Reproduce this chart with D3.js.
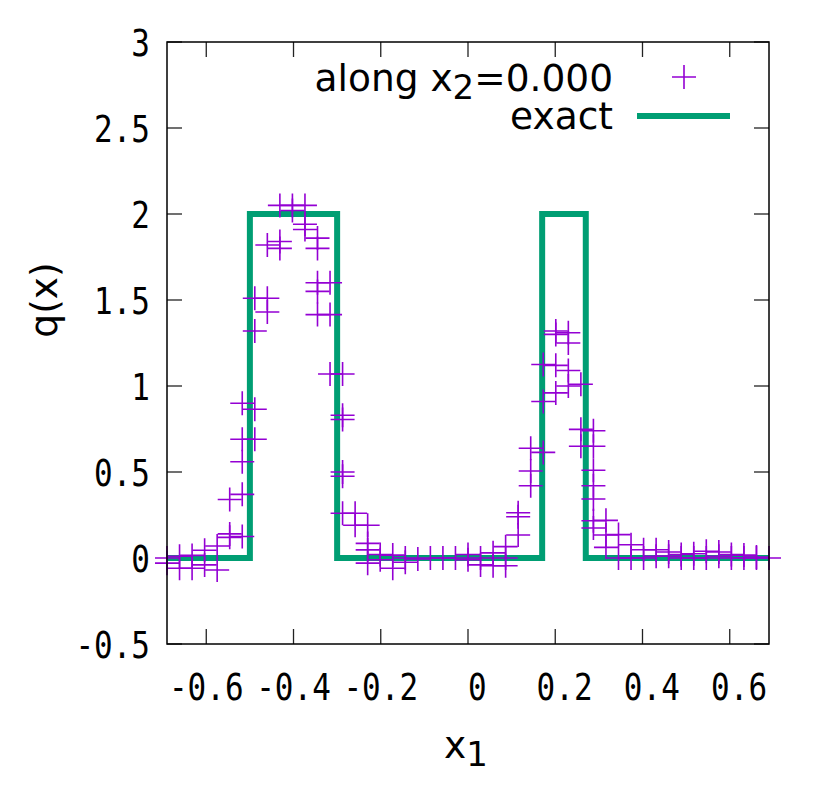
<!DOCTYPE html>
<html>
<head>
<meta charset="utf-8">
<script src="https://cdn.jsdelivr.net/npm/d3@7"></script>
<style>
  html, body { margin: 0; padding: 0; background: #fff; }
  svg { display: block; }
  text { white-space: pre; }
</style>
</head>
<body>
<div id="chart"></div>
<script>
// ---- data ----
const gridStart = -0.69;
const gridStep = 0.02875;
// column index along x1 for each sample point
const sampleCol = [
  0,0, 1,1, 2,2, 3,3, 4,4,
  5,5,5, 6,6,6,6,6, 7,7,7,7, 8,8,8, 9,9,9, 10,10, 11,11,11,
  12,12,12,12,12, 13,13,13, 14,14,14,14,14,14, 15,15, 16,16,16,16,
  17,17, 18,18, 19,19, 20, 21, 22, 23, 24,24, 25,25, 26,26, 27,27,27,
  28,28,28, 29,29,29, 30,30,30, 31,31,31,31, 32,32,32,32, 33,33,33,
  34,34,34,34,34,34,34, 35,35,35, 36,36, 37,37, 38,38, 39,39, 40,40,
  41,41, 42,42, 43,43, 44,44, 45,45, 46,46, 47,47, 48
];
// q(x) value of each sample point along x2 = 0.000
const sampleQ = [
  0.0,-0.03, 0.01,-0.06, 0.015,-0.06, 0.045,-0.04, 0.07,-0.07,
  0.14,0.12,0.34, 0.125,0.37,0.56,0.69,0.90, 0.69,0.865,1.32,1.51, 1.51,1.43,1.82, 1.84,1.80,2.05, 2.05,2.02, 2.05,1.94,1.91,
  1.86,1.80,1.60,1.55,1.415, 1.60,1.415,1.07, 1.07,0.83,0.805,0.50,0.475,0.26, 0.26,0.19, 0.19,0.085,0.047,-0.03,
  0.02,-0.01, 0.017,-0.06, 0.0,-0.025, -0.006, 0.0, 0.0, 0.0, 0.02,-0.01, 0.0,-0.04, 0.03,-0.045, 0.066,0.0,-0.045,
  0.263,0.24,0.134, 0.638,0.506,0.42, 0.614,1.125,0.91, 1.32,1.30,1.12,0.96, 1.31,1.25,1.09,1.0, 1.01,0.748,0.65,
  0.74,0.65,0.51,0.42,0.343,0.217,0.174, 0.219,0.134,0.062, 0.136,0.0, 0.077,0.0, 0.048,0.0, 0.048,0.01, 0.035,0.01,
  0.02,0.0, 0.025,0.0, 0.039,0.0, 0.035,0.01, 0.02,0.0, 0.017,0.0, 0.006,0.0, 0.0
];
// exact solution (step profile)
const exactX = [-0.69, -0.5, -0.5, -0.3, -0.3, 0.17, 0.17, 0.27, 0.27, 0.69];
const exactQ = [0, 0, 2, 2, 0, 0, 2, 2, 0, 0];
// axes
const xTicks = [-0.6, -0.4, -0.2, 0, 0.2, 0.4, 0.6];
const yTicks = [-0.5, 0, 0.5, 1, 1.5, 2, 2.5, 3];
const legendLabels = ["along x", "2", "=0.000", "exact"];

// ---- drawing ----
const W = 830, H = 810;
const L = 167, R = 769, T = 42, B = 644;
const svg = d3.select("#chart").append("svg").attr("width", W).attr("height", H);

const x = d3.scaleLinear().domain([-0.69, 0.69]).range([L, R]);
const y = d3.scaleLinear().domain([-0.5, 3]).range([B, T]);

// gnuplot "% h" style: leading space for non-negative numbers
const fmt = v => {
  const s = String(+v.toFixed(1));
  return v < 0 ? s : " " + s;
};

const tickFont = "'DejaVu Sans Mono', monospace";
const sansFont = "'DejaVu Sans', sans-serif";

// tick marks (inward, mirrored)
const tg = svg.append("g").attr("stroke", "#222").attr("stroke-width", 1.3);
xTicks.forEach(t => {
  tg.append("line").attr("x1", x(t)).attr("x2", x(t)).attr("y1", B).attr("y2", B - 15);
  tg.append("line").attr("x1", x(t)).attr("x2", x(t)).attr("y1", T).attr("y2", T + 15);
});
yTicks.forEach(t => {
  tg.append("line").attr("x1", L).attr("x2", L + 15).attr("y1", y(t)).attr("y2", y(t));
  tg.append("line").attr("x1", R).attr("x2", R - 15).attr("y1", y(t)).attr("y2", y(t));
});

// tick labels (tall, narrow glyphs)
svg.append("g").selectAll("text").data(xTicks).join("text")
  .attr("transform", d => `translate(${x(d)},700) scale(1,1.22)`)
  .attr("text-anchor", "middle")
  .attr("font-family", tickFont).attr("font-size", 31)
  .text(d => fmt(d));
svg.append("g").selectAll("text").data(yTicks).join("text")
  .attr("transform", d => `translate(150,${y(d) + 14}) scale(1,1.22)`)
  .attr("text-anchor", "end")
  .attr("font-family", tickFont).attr("font-size", 31)
  .text(d => fmt(d));

// exact line
const exactData = exactX.map((v, i) => [v, exactQ[i]]);
svg.append("path")
  .datum(exactData)
  .attr("fill", "none").attr("stroke", "#009e73").attr("stroke-width", 6)
  .attr("stroke-linejoin", "miter")
  .attr("d", d3.line().x(d => x(d[0])).y(d => y(d[1])));

// sample points (+ markers)
const pts = sampleCol.map((c, i) => [gridStart + c * gridStep, sampleQ[i]]);
svg.append("g").selectAll("path").data(pts).join("path")
  .attr("transform", d => `translate(${x(d[0])},${y(d[1])})`)
  .attr("d", "M-12,0H12M0,-12V12")
  .attr("stroke", "#9400d3").attr("stroke-width", 1.6).attr("fill", "none");

// border
svg.append("rect").attr("x", L).attr("y", T).attr("width", R - L).attr("height", B - T)
  .attr("fill", "none").attr("stroke", "#000").attr("stroke-width", 1.5);

// legend
const lg = svg.append("g").attr("font-family", sansFont).attr("font-size", 37.5);
const t1 = lg.append("text").attr("x", 613).attr("y", 91).attr("text-anchor", "end");
t1.append("tspan").text(legendLabels[0]);
t1.append("tspan").attr("font-size", 34).attr("dy", 8).text(legendLabels[1]);
t1.append("tspan").attr("dy", -8).text(legendLabels[2]);
lg.append("path").attr("transform", "translate(684,77)")
  .attr("d", "M-12,0H12M0,-12V12")
  .attr("stroke", "#9400d3").attr("stroke-width", 1.6).attr("fill", "none");
lg.append("text").attr("x", 613).attr("y", 129).attr("text-anchor", "end").text(legendLabels[3]);
lg.append("line").attr("x1", 637).attr("x2", 730).attr("y1", 116).attr("y2", 116)
  .attr("stroke", "#009e73").attr("stroke-width", 6);

// axis labels
const xl = svg.append("text").attr("x", 466).attr("y", 758).attr("text-anchor", "middle")
  .attr("font-family", sansFont).attr("font-size", 37.5);
xl.append("tspan").text("x");
xl.append("tspan").attr("font-size", 34).attr("dy", 8).text("1");

svg.append("text")
  .attr("transform", "translate(57,300) rotate(-90)")
  .attr("text-anchor", "middle")
  .attr("font-family", sansFont).attr("font-size", 37.5)
  .text("q(x)");
</script>
</body>
</html>
